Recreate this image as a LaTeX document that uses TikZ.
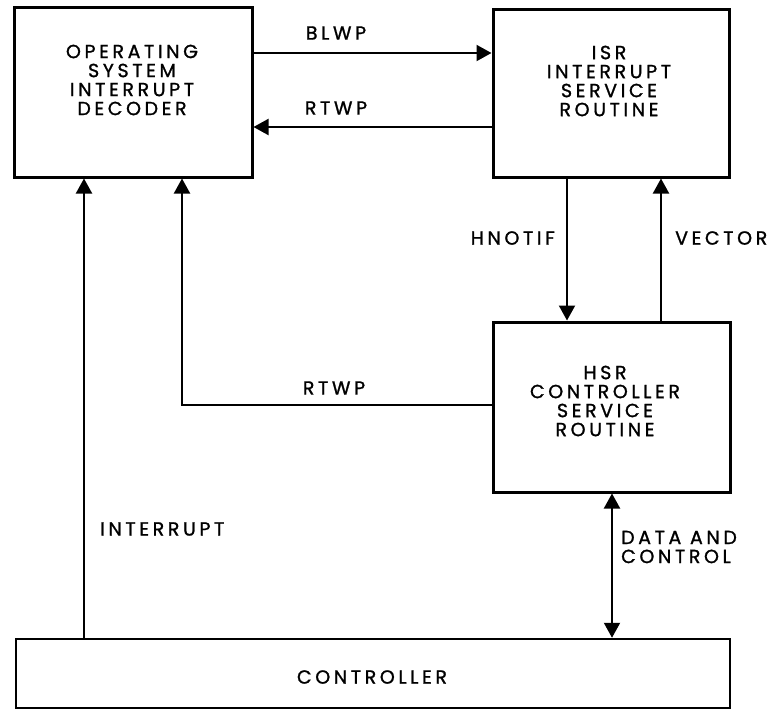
\documentclass[tikz,border=0pt]{standalone}
\usepackage{fontspec}
\setmainfont{Poppins}[LetterSpace=19, FakeBold=1.2]
\usetikzlibrary{arrows.meta}
\begin{document}
\begin{tikzpicture}[x=1pt,y=-1pt,
  box/.style={draw, line width=3pt, inner sep=0pt},
  txt/.style={font=\fontsize{19}{19}\selectfont, align=center, inner sep=0pt},
  conn/.style={line width=2pt, -{Triangle[length=15pt,width=16pt]}},
  both/.style={line width=2pt, {Triangle[length=15pt,width=16pt]}-{Triangle[length=15pt,width=16pt]}}
]
\useasboundingbox (0,0) rectangle (772,710);
% boxes
\node[box, minimum width=238pt, minimum height=170pt] (os) at (133,92) {};
\node[box, minimum width=236pt, minimum height=168pt] (isr) at (611,93) {};
\node[box, minimum width=237pt, minimum height=170pt] (hsr) at (611.5,407) {};
\node[box, line width=2.5pt, minimum width=714pt, minimum height=69pt] (ctl) at (373,673.5) {};
% box texts
\node[txt] (ost) at (132,80) {OPERATING\\SYSTEM\\INTERRUPT\\DECODER};
\node[txt] (isrt) at (609,81) {ISR\\INTERRUPT\\SERVICE\\ROUTINE};
\node[txt] (hsrt) at (605,401) {HSR\\CONTROLLER\\SERVICE\\ROUTINE};
\node[txt] (ctlt) at (372,677) {CONTROLLER};
% connectors
\draw[conn] (os.east |- 0,53) -- (isr.west |- 0,53);
\draw[conn] (isr.west |- 0,127) -- (os.east |- 0,127);
\draw[conn] (isr.south -| 567,0) -- (hsr.north -| 567,0);
\draw[conn] (hsr.north -| 661,0) -- (isr.south -| 661,0);
\draw[conn] (hsr.west |- 0,405) -| (os.south -| 182,0);
\draw[conn] (ctl.north -| 84,0) -- (os.south -| 84,0);
\draw[both] (hsr.south -| 612,0) -- (ctl.north -| 612,0);
% connector labels
\node[txt] (blwp) at (336,33) {BLWP};
\node[txt] (rtwp1) at (336,108) {RTWP};
\node[txt, anchor=east] (hnotif) at (555,238) {HNOTIF};
\node[txt, anchor=west] (vector) at (675,238) {VECTOR};
\node[txt] (rtwp2) at (334,388) {RTWP};
\node[txt, anchor=west] (intr) at (100,529) {INTERRUPT};
\node[txt, anchor=west, align=left] (dac) at (621,547) {DATA AND\\CONTROL};
\end{tikzpicture}
\end{document}
